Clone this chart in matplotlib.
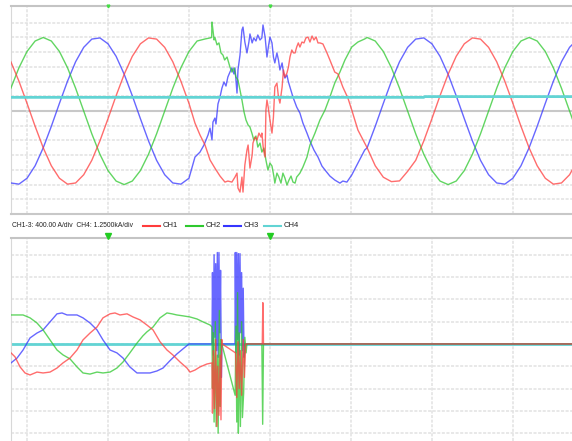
import matplotlib.pyplot as plt
import numpy as np
from matplotlib.lines import Line2D

plt.rcParams['font.family'] = ['Liberation Sans', 'DejaVu Sans']

# ---- top panel: values in divisions (CH1-3 400 A/div), time in ms ----
t_head = np.arange(-2, 21)
t_tail = np.arange(42, 69)

ch1_head = [3.35, 2.03, 0.52, -1.04, -2.5, -3.72, -4.57, -4.97, -4.89, -4.33, -3.35, -2.03,
            -0.52, 1.04, 2.5, 3.72, 4.57, 4.97, 4.89, 4.33, 3.35, 2.03, 0.52]
ch2_head = [1.55, 2.94, 4.05, 4.76, 5.0, 4.76, 4.05, 2.94, 1.55, 0.0, -1.55, -2.94,
            -4.05, -4.76, -5.0, -4.76, -4.05, -2.94, -1.55, 0.0, 1.55, 2.94, 4.05]
ch3_head = [-4.89, -4.97, -4.57, -3.72, -2.5, -1.04, 0.52, 2.03, 3.35, 4.33, 4.89, 4.97,
            4.57, 3.72, 2.5, 1.04, -0.52, -2.03, -3.35, -4.33, -4.89, -4.97, -4.57]

ch1_tail = [-2.5, -3.72, -4.5, -4.8, -4.75, -4.1, -3.35, -2.03, -0.52, 1.04, 2.5, 3.72, 4.57, 4.97,
            4.89, 4.33, 3.35, 2.03, 0.52, -1.04, -2.5, -3.72, -4.57, -4.97, -4.89, -4.33, -3.35]
ch2_tail = [5.0, 4.76, 4.05, 2.94, 1.55, 0.0, -1.55, -2.94, -4.05, -4.76, -5.0, -4.76, -4.05, -2.94,
            -1.55, 0.0, 1.55, 2.94, 4.05, 4.76, 5.0, 4.76, 4.05, 2.94, 1.55, 0.0, -1.55]
ch3_tail = [-2.5, -1.04, 0.52, 2.03, 3.35, 4.33, 4.89, 4.97, 4.57, 3.72, 2.5, 1.04, -0.52, -2.03,
            -3.35, -4.33, -4.89, -4.97, -4.57, -3.72, -2.5, -1.04, 0.52, 2.03, 3.35, 4.33, 4.89]

# disturbed stretch
ch1_fault_t = [20.74, 21.36, 21.98, 22.6, 23.2, 23.83, 24.44, 24.8, 25.3, 25.68, 25.93, 26.05, 26.3,
               26.54, 26.67, 26.9, 27.16, 27.3, 27.53, 27.8, 27.9, 28.15, 28.4, 28.64, 28.9, 29.0,
               29.2, 29.4, 29.5, 29.63, 29.8, 30.0, 30.25, 30.43, 30.6, 30.86, 31.05, 31.23, 31.5,
               31.67, 31.85, 32.1, 32.28, 32.47, 32.7, 32.9, 33.1, 33.3, 33.5, 33.7, 33.95, 34.2,
               34.44, 34.7, 34.94, 35.2, 35.43, 35.7, 35.93, 36.17, 36.54, 37.04, 37.4, 38.0, 38.4,
               39.0, 39.63, 40.1, 40.86, 41.7]
ch1_fault = [-0.82, -1.63, -2.31, -3.33, -3.88, -4.42, -4.83, -4.76, -4.83, -4.49, -4.22, -5.24, -5.51,
             -4.49, -5.51, -3.67, -2.65, -2.31, -3.88, -2.99, -2.18, -1.77, -1.97, -1.5, -1.77, -1.5,
             -2.65, -3.13, 0.07, 0.75, 0.2, -0.61, -1.5, -0.41, 1.63, 1.9, 0.95, 0.54, 1.63,
             2.79, 2.31, 2.59, 2.99, 3.67, 4.15, 3.95, 3.95, 4.35, 4.63, 4.35, 4.69, 4.63,
             4.97, 5.03, 4.69, 5.1, 4.83, 5.03, 4.63, 4.63, 4.56, 3.95, 3.47, 2.65, 2.52,
             1.63, 0.88, 0.07, -1.29, -2.18]

ch2_fault_t = [21.0, 22.0, 22.6, 22.8, 22.84, 22.96, 23.1, 23.2, 23.46, 23.7, 23.95, 24.2, 24.4, 24.7,
               25.06, 25.3, 25.55, 25.8, 26.05, 26.3, 26.54, 26.8, 27.04, 27.3, 27.53, 27.8, 28.0,
               28.27, 28.5, 28.77, 29.0, 29.26, 29.5, 29.75, 30.0, 30.25, 30.5, 30.6, 30.86, 31.1,
               31.36, 31.6, 31.85, 32.1, 32.35, 32.6, 32.84, 33.1, 33.3, 33.7, 34.07, 34.57, 34.94,
               35.56, 36.17, 36.8, 37.4, 38.0, 38.64, 39.26, 40.1, 40.86, 41.7]
ch2_fault = [4.76, 4.9, 4.97, 5.0, 6.05, 5.5, 4.83, 5.0, 4.5, 4.63, 3.95, 3.8, 3.47, 3.67,
             2.99, 2.65, 2.93, 2.31, 2.1, 1.43, 0.75, -0.07, -0.61, -0.95, -1.09, -1.56, -1.97,
             -1.7, -2.45, -2.18, -2.79, -2.52, -3.33, -4.01, -3.54, -3.74, -4.49, -4.9, -4.22, -4.49,
             -4.9, -4.22, -4.56, -5.03, -4.69, -4.42, -4.83, -4.9, -4.49, -4.22, -3.81, -3.13, -2.31,
             -1.5, -0.61, 0.07, 0.95, 1.9, 2.65, 3.47, 4.35, 4.69, 4.9]

ch3_fault_t = [20.74, 21.36, 21.85, 22.35, 22.6, 22.84, 22.96, 23.2, 23.33, 23.58, 23.83, 24.07, 24.32,
               24.57, 24.8, 25.06, 25.3, 25.55, 25.68, 25.93, 26.05, 26.3, 26.54, 26.67, 26.9, 27.16,
               27.4, 27.53, 27.8, 28.0, 28.27, 28.5, 28.77, 29.0, 29.14, 29.4, 29.63, 29.8, 30.0,
               30.25, 30.43, 30.6, 30.86, 31.05, 31.23, 31.5, 31.67, 31.85, 32.1, 32.28, 32.47, 32.84,
               33.3, 33.7, 34.07, 34.57, 34.94, 35.43, 35.93, 36.42, 36.8, 37.4, 38.0, 38.64, 39.0,
               39.5, 40.1, 40.86, 41.7]
ch3_fault = [-3.13, -2.79, -2.31, -1.63, -1.16, -1.97, -0.75, -0.48, -0.88, 0.48, 0.95, 1.56, 1.97,
             1.7, 2.31, 2.65, 2.93, 2.52, 2.93, 1.22, 2.79, 3.81, 5.51, 5.71, 4.69, 3.95,
             4.69, 5.24, 4.63, 4.97, 4.76, 5.17, 4.83, 4.97, 5.85, 5.03, 3.67, 4.35, 5.03,
             4.63, 3.67, 3.27, 3.95, 3.47, 2.79, 3.27, 2.59, 2.24, 2.45, 1.97, 1.63, 0.95,
             0.27, -0.14, -0.82, -1.5, -2.04, -2.65, -3.13, -3.74, -4.01, -4.42, -4.69, -4.9, -4.76,
             -4.83, -4.35, -3.54, -2.65]

ch4_top_t = [-2, 49, 49.1, 68]
ch4_top = [0.93, 0.93, 0.98, 0.98]

# ---- bottom panel: values in divisions ----
ch1_bot_t = [-1.98, -1.48, -0.86, -0.25, 0.37, 1.23, 1.98, 2.84, 3.7, 4.44, 5.31, 6.17, 6.91, 7.78,
             8.64, 9.38, 10.25, 10.86, 11.48, 12.35, 13.09, 13.95, 14.8, 15.56, 16.42, 17.28, 18.0,
             18.9, 19.75, 20.12, 20.74, 21.36, 22.2, 22.84,
             22.9, 23.0, 23.15, 23.3, 23.45, 23.55, 23.7, 23.85, 23.95, 24.05, 24.1,
             25.75, 25.9, 26.05, 26.2, 26.35, 26.5, 26.7, 26.85, 27.0,
             29.05, 29.12, 29.17, 29.2, 68]
ch1_bot = [-0.4, -0.58, -1.03, -1.3, -1.39, -1.26, -1.3, -1.26, -1.08, -0.85, -0.63, -0.27, 0.18, 0.49,
           0.76, 1.17, 1.35, 1.39, 1.3, 1.35, 1.21, 1.08, 0.85, 0.63, 0.1, -0.27, -0.49,
           -0.81, -1.08, -1.26, -1.17, -1.03, -0.9, -0.85,
           -3.1, -0.3, -2.9, 0.2, -3.7, -1.0, -3.2, -0.5, -3.4, 0.2, 0.0,
           -0.4, -2.4, 0.1, -2.0, -0.3, -2.3, 0.2, -1.5, 0.0,
           0.0, 1.85, 1.3, 0.0, 0.0]

ch2_bot_t = [-1.98, -1.23, -0.49, 0.37, 1.23, 1.98, 2.84, 3.7, 4.44, 5.31, 6.17, 6.91, 7.78, 8.64,
             9.38, 10.25, 11.1, 11.85, 12.7, 13.58, 14.3, 14.8, 15.56, 16.42, 17.28, 17.9, 18.5,
             19.26, 20.12, 20.99, 21.73, 22.6, 22.84,
             22.9, 23.0, 23.1, 23.25, 23.35, 23.5, 23.6, 23.75, 23.85, 23.95, 24.05,
             25.7, 25.8, 25.9, 26.0, 26.1, 26.2, 26.35, 26.5, 26.6, 26.75, 26.9, 27.05, 27.15,
             29.0, 29.1, 29.2, 68]
ch2_bot = [1.3, 1.3, 1.3, 1.17, 0.94, 0.63, 0.18, -0.27, -0.49, -0.67, -1.03, -1.3, -1.35, -1.26,
           -1.3, -1.26, -1.08, -0.81, -0.4, 0.04, 0.36, 0.54, 0.76, 1.17, 1.39, 1.35, 1.3,
           1.26, 1.21, 1.12, 0.99, 0.85, 0.76,
           -2.0, 0.5, -3.5, 1.0, -3.7, -0.5, -4.0, 1.5, -2.8, 0.2, 0.0,
           -2.3, 0.8, -3.5, 2.3, -4.0, 0.5, -3.7, 1.0, -3.3, -2.2, 0.3, -0.4, 0.0,
           0.0, -3.6, 0.0, 0.0]

ch3_bot_t = [-1.98, -1.23, -0.49, 0.37, 1.23, 1.98, 2.84, 3.7, 4.32, 4.94, 6.17, 6.91, 7.78, 8.64,
             9.38, 10.25, 11.1, 11.85, 12.7, 13.58, 14.3, 15.19, 16.05, 16.79, 17.65, 18.5, 19.26,
             20.0, 22.84,
             22.9, 23.0, 23.1, 23.2, 23.3, 23.4, 23.5, 23.6, 23.7, 23.8, 23.9, 24.0, 24.07,
             25.68, 25.72, 25.8, 25.9, 26.0, 26.1, 26.2, 26.3, 26.4, 26.5, 26.6, 26.7, 26.8, 26.95,
             68]
ch3_bot = [-0.85, -0.63, -0.27, 0.27, 0.49, 0.63, 0.99, 1.35, 1.39, 1.3, 1.3, 1.17, 0.94, 0.63,
           0.18, -0.27, -0.4, -0.63, -1.03, -1.3, -1.3, -1.3, -1.21, -1.08, -0.75, -0.45, -0.22,
           0.0, 0.0,
           3.2, -0.5, 4.0, 0.3, 3.6, -0.3, 4.1, -0.6, 4.1, 0.5, 3.3, -1.5, 0.0,
           0.0, 4.1, -0.4, 4.1, 0.2, 4.05, -0.5, 4.05, 0.5, 3.2, -0.3, 2.5, -0.6, 0.0,
           0.0]

ch4_bot_t = [-2, 68]
ch4_bot = [0.0, 0.0]

trigger_t = [10, 30]

colors = {'CH1': '#ff3c3c', 'CH2': '#2ec82e', 'CH3': '#3535ff', 'CH4': '#62d4d4'}
grid_c = '#e2e2e2'

fig = plt.figure(figsize=(5.72, 4.41), dpi=100)
ax_top = fig.add_axes([11 / 572, 1 - 214 / 441, 1 - 11 / 572, 208 / 441])
ax_bot = fig.add_axes([11 / 572, 0, 1 - 11 / 572, 203 / 441])

for ax in (ax_top, ax_bot):
    ax.set_xlim(-1.98, 67.3)
    ax.set_xticks(np.arange(0, 70, 10))
    ax.tick_params(length=0, labelbottom=False, labelleft=False)
    ax.grid(True, color=grid_c, lw=1.1, ls=(0, (2, 1)))
    for s in ax.spines.values():
        s.set_visible(False)
    ax.spines['left'].set_visible(True)
    ax.spines['left'].set_color('#d8d8d8')
    ax.spines['top'].set_visible(True)
    ax.spines['top'].set_color('#c4c4c4')
    ax.spines['top'].set_linewidth(1.5)

ax_top.set_ylim(-7.0, 7.14)
ax_top.set_yticks([-6, -5, -4, -3, -2, -1, 1, 2, 3, 4, 5, 6])
ax_top.spines['bottom'].set_visible(True)
ax_top.spines['bottom'].set_color('#c8c8c8')
ax_top.spines['bottom'].set_linewidth(1.5)
ax_top.axhline(0, color='#c8c8c8', lw=1.5, zorder=1)

ax_bot.set_ylim(-4.35, 4.75)
ax_bot.set_yticks([-4, -3, -2, -1, 0, 1, 2, 3, 4])

lw = 1.0
# top panel traces
ax_top.plot(np.concatenate([t_head, ch3_fault_t, t_tail]), ch3_head + ch3_fault + ch3_tail,
            color=colors['CH3'], lw=lw, alpha=0.75, zorder=3)
ax_top.plot(np.concatenate([t_head, ch2_fault_t, t_tail]), ch2_head + ch2_fault + ch2_tail,
            color=colors['CH2'], lw=lw, alpha=0.75, zorder=3)
ax_top.plot(np.concatenate([t_head, ch1_fault_t, t_tail]), ch1_head + ch1_fault + ch1_tail,
            color=colors['CH1'], lw=lw, alpha=0.75, zorder=3)
ax_top.plot(ch4_top_t, ch4_top, color=colors['CH4'], lw=2, zorder=4)

# bottom panel traces
ax_bot.plot(ch4_bot_t, ch4_bot, color=colors['CH4'], lw=2, zorder=2)
ax_bot.plot(ch3_bot_t, ch3_bot, color=colors['CH3'], lw=lw, alpha=0.75, zorder=3)
ax_bot.plot(ch2_bot_t, ch2_bot, color=colors['CH2'], lw=lw, alpha=0.75, zorder=3)
ax_bot.plot(ch1_bot_t, ch1_bot, color=colors['CH1'], lw=lw, alpha=0.75, zorder=3)

# trigger markers
ax_bot.plot(trigger_t, [1.01] * len(trigger_t), ls='none', marker='v', ms=4, color='#22cc22',
            transform=ax_bot.get_xaxis_transform(), clip_on=False, zorder=5)
ax_top.plot(trigger_t, [1.0] * len(trigger_t), ls='none', marker='v', ms=2, color='#44dd44',
            transform=ax_top.get_xaxis_transform(), clip_on=False, zorder=5)

# legend strip between panels
ty = 1 - 225.5 / 441
fig.text(12 / 572, ty, 'CH1-3: 400.00 A/div  CH4: 1.2500kA/div', fontsize=4.9, va='center',
         ha='left', color='#222222')
legend_x = [143, 186, 224, 264]
for name, x0 in zip(['CH1', 'CH2', 'CH3', 'CH4'], legend_x):
    fig.add_artist(Line2D([x0 / 572, (x0 + 17) / 572], [ty, ty], color=colors[name], lw=1.5))
    fig.text((x0 + 20) / 572, ty, name, fontsize=5.5, va='center', ha='left', color='#222222')

fig.savefig('out.png', dpi=100)
